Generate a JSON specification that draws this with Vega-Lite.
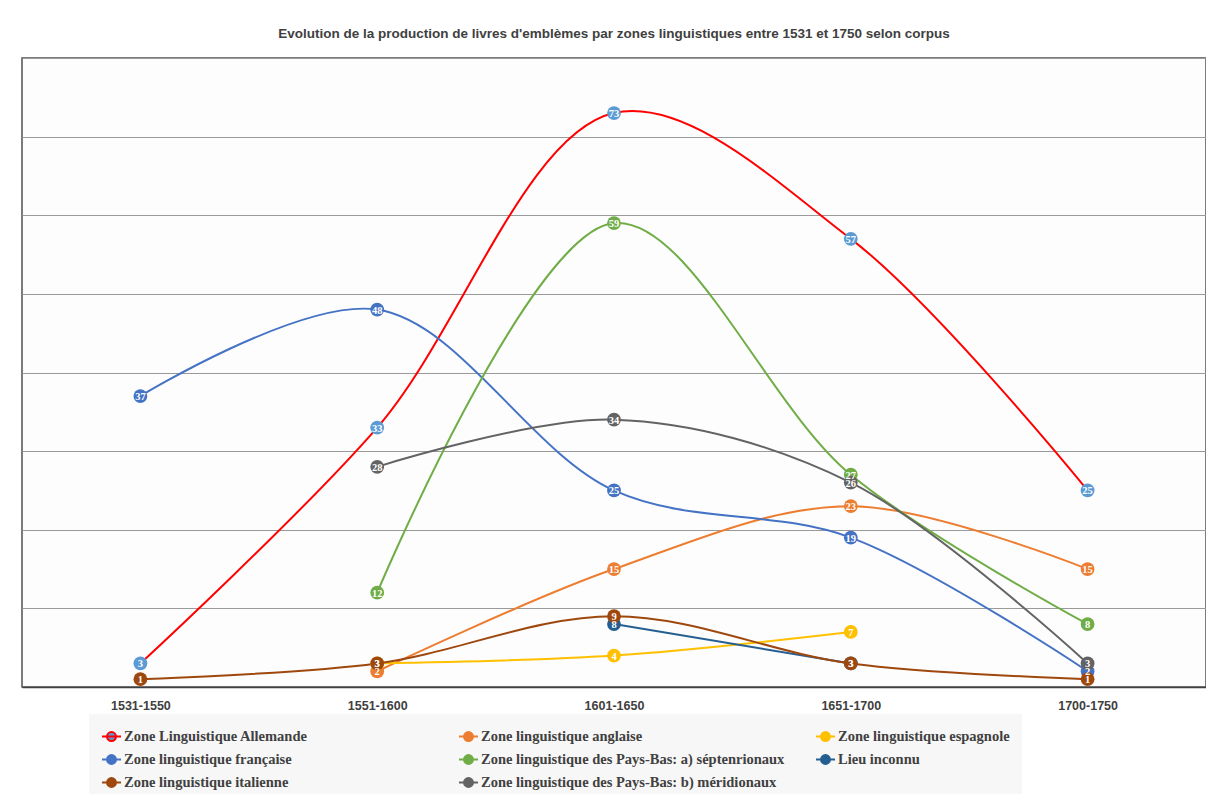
{
  "$schema": "https://vega.github.io/schema/vega-lite/v6.json",
  "autosize": {"type": "none"},
  "padding": {"left": 22, "top": 58, "right": 0, "bottom": 107},
  "width": 1184,
  "height": 629,
  "background": "white",
  "title": {
    "text": "Evolution de la production de livres d'emblèmes par zones linguistiques entre 1531 et 1750 selon corpus",
    "font": "Liberation Sans",
    "fontSize": 13.5,
    "fontWeight": "bold",
    "color": "#404040",
    "anchor": "middle",
    "offset": 18
  },
  "config": {
    "view": {"stroke": "#505050", "strokeWidth": 1.5, "fill": "#fdfdfd"},
    "axisY": {"labels": false, "ticks": false, "domain": false, "grid": true, "gridColor": "#9a9a9a", "gridWidth": 1, "title": null},
    "axisX": {"grid": false, "ticks": false, "domainColor": "#404040", "domainWidth": 1.5, "labelFont": "Liberation Sans", "labelFontSize": 12.5, "labelFontWeight": "bold", "labelColor": "#404040", "labelPadding": 12, "labelAngle": 0, "title": null}
  },
  "data": {
    "values": [
      {"zone": "Zone Linguistique Allemande", "periode": "1531-1550", "n": 3},
      {"zone": "Zone Linguistique Allemande", "periode": "1551-1600", "n": 33},
      {"zone": "Zone Linguistique Allemande", "periode": "1601-1650", "n": 73},
      {"zone": "Zone Linguistique Allemande", "periode": "1651-1700", "n": 57},
      {"zone": "Zone Linguistique Allemande", "periode": "1700-1750", "n": 25},
      {"zone": "Zone linguistique anglaise", "periode": "1551-1600", "n": 2},
      {"zone": "Zone linguistique anglaise", "periode": "1601-1650", "n": 15},
      {"zone": "Zone linguistique anglaise", "periode": "1651-1700", "n": 23},
      {"zone": "Zone linguistique anglaise", "periode": "1700-1750", "n": 15},
      {"zone": "Zone linguistique espagnole", "periode": "1551-1600", "n": 3},
      {"zone": "Zone linguistique espagnole", "periode": "1601-1650", "n": 4},
      {"zone": "Zone linguistique espagnole", "periode": "1651-1700", "n": 7},
      {"zone": "Zone linguistique française", "periode": "1531-1550", "n": 37},
      {"zone": "Zone linguistique française", "periode": "1551-1600", "n": 48},
      {"zone": "Zone linguistique française", "periode": "1601-1650", "n": 25},
      {"zone": "Zone linguistique française", "periode": "1651-1700", "n": 19},
      {"zone": "Zone linguistique française", "periode": "1700-1750", "n": 2},
      {"zone": "Zone linguistique des Pays-Bas: a) séptenrionaux", "periode": "1551-1600", "n": 12},
      {"zone": "Zone linguistique des Pays-Bas: a) séptenrionaux", "periode": "1601-1650", "n": 59},
      {"zone": "Zone linguistique des Pays-Bas: a) séptenrionaux", "periode": "1651-1700", "n": 27},
      {"zone": "Zone linguistique des Pays-Bas: a) séptenrionaux", "periode": "1700-1750", "n": 8},
      {"zone": "Lieu inconnu", "periode": "1601-1650", "n": 8},
      {"zone": "Lieu inconnu", "periode": "1651-1700", "n": 3},
      {"zone": "Zone linguistique italienne", "periode": "1531-1550", "n": 1},
      {"zone": "Zone linguistique italienne", "periode": "1551-1600", "n": 3},
      {"zone": "Zone linguistique italienne", "periode": "1601-1650", "n": 9},
      {"zone": "Zone linguistique italienne", "periode": "1651-1700", "n": 3},
      {"zone": "Zone linguistique italienne", "periode": "1700-1750", "n": 1},
      {"zone": "Zone linguistique des Pays-Bas: b) méridionaux", "periode": "1551-1600", "n": 28},
      {"zone": "Zone linguistique des Pays-Bas: b) méridionaux", "periode": "1601-1650", "n": 34},
      {"zone": "Zone linguistique des Pays-Bas: b) méridionaux", "periode": "1651-1700", "n": 26},
      {"zone": "Zone linguistique des Pays-Bas: b) méridionaux", "periode": "1700-1750", "n": 3}
    ]
  },
  "encoding": {
    "x": {"field": "periode", "type": "ordinal", "scale": {"type": "point", "padding": 0.5, "domain": ["1531-1550", "1551-1600", "1601-1650", "1651-1700", "1700-1750"]}, "axis": {}},
    "y": {"field": "n", "type": "quantitative", "scale": {"domain": [0, 80], "nice": false}, "axis": {"values": [0, 10, 20, 30, 40, 50, 60, 70, 80]}}
  },
  "layer": [
    {
      "mark": {"type": "line", "interpolate": "catmull-rom", "strokeWidth": 2},
      "encoding": {
        "stroke": {
          "field": "zone", "type": "nominal",
          "scale": {
            "domain": ["Zone Linguistique Allemande", "Zone linguistique anglaise", "Zone linguistique espagnole", "Zone linguistique française", "Zone linguistique des Pays-Bas: a) séptenrionaux", "Lieu inconnu", "Zone linguistique italienne", "Zone linguistique des Pays-Bas: b) méridionaux"],
            "range": ["#FF0000", "#ED7D31", "#FFC000", "#4472C4", "#70AD47", "#255E91", "#9E480E", "#636363"]
          },
          "legend": {
            "title": null,
            "orient": "none",
            "legendX": 67,
            "legendY": 656,
            "direction": "horizontal",
            "columns": 3,
            "gridAlign": "all",
            "columnPadding": 27,
            "rowPadding": 4,
            "padding": 12,
            "fillColor": "#f7f7f7",
            "symbolType": "M-1,0H1M-0.47,0A0.47,0.47,0,1,1,0.47,0A0.47,0.47,0,1,1,-0.47,0Z",
            "symbolSize": 361,
            "symbolStrokeWidth": 2,
            "symbolOffset": 0,
            "labelOffset": 2,
            "labelFont": "Liberation Serif",
            "labelFontSize": 14.5,
            "labelFontWeight": "bold",
            "labelColor": "#404040",
            "labelLimit": 400
          }
        }
      }
    },
    {
      "mark": {"type": "circle", "size": 190, "opacity": 1},
      "encoding": {
        "fill": {
          "field": "zone", "type": "nominal",
          "scale": {
            "domain": ["Zone Linguistique Allemande", "Zone linguistique anglaise", "Zone linguistique espagnole", "Zone linguistique française", "Zone linguistique des Pays-Bas: a) séptenrionaux", "Lieu inconnu", "Zone linguistique italienne", "Zone linguistique des Pays-Bas: b) méridionaux"],
            "range": ["#5B9BD5", "#ED7D31", "#FFC000", "#4472C4", "#70AD47", "#255E91", "#9E480E", "#636363"]
          },
          "legend": {"title": null}
        }
      }
    },
    {
      "mark": {"type": "text", "color": "white", "font": "Liberation Serif", "fontSize": 10.5, "fontWeight": "bold", "baseline": "middle", "align": "center", "dy": 1},
      "encoding": {
        "text": {"field": "n", "type": "quantitative"}
      }
    }
  ]
}
